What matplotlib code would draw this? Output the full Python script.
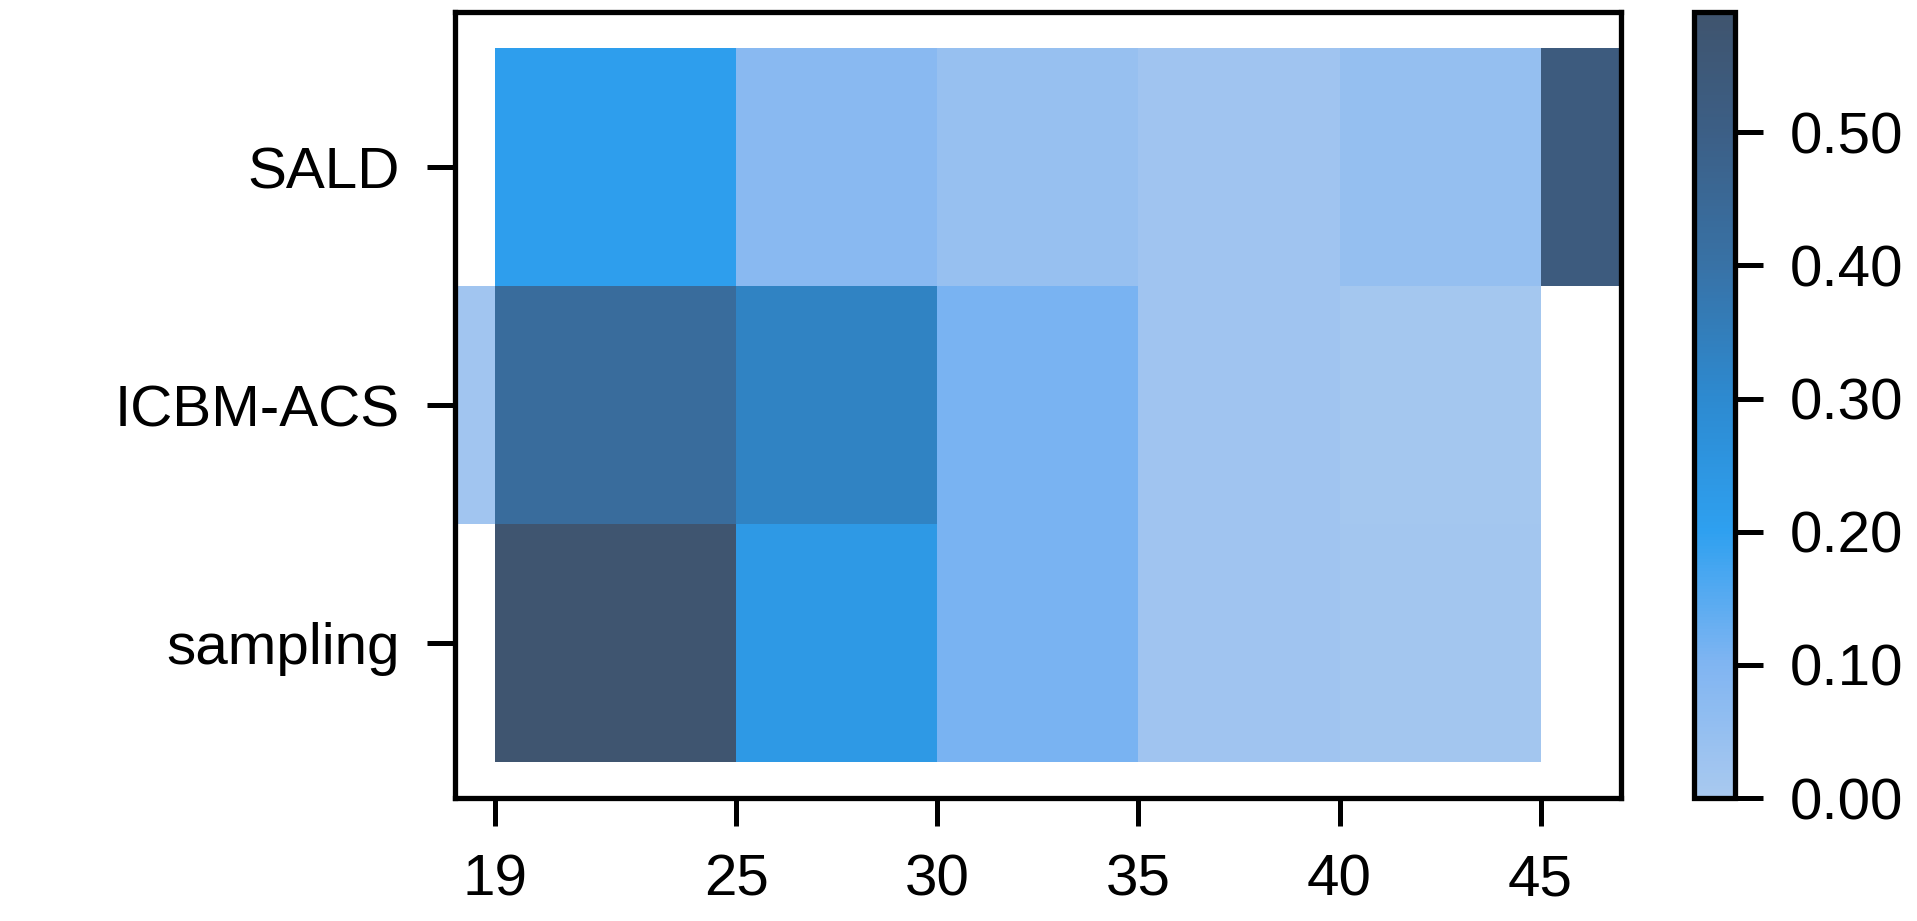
import numpy as np
import matplotlib
matplotlib.use("Agg")
import matplotlib.pyplot as plt
from matplotlib.colors import LinearSegmentedColormap

plt.rcParams['font.family'] = ['Liberation Sans', 'DejaVu Sans']

categories = ["SALD", "ICBM-ACS", "sampling"]
x_edges = [18, 19, 25, 30, 35, 40, 45, 47]
x_ticks = [19, 25, 30, 35, 40, 45]
sald = [np.nan, 0.21, 0.08, 0.045, 0.025, 0.05, 0.53]
icbm = [0.02, 0.43, 0.33, 0.11, 0.025, 0.012, np.nan]
sampling = [np.nan, 0.58, 0.235, 0.11, 0.025, 0.015, np.nan]
cbar_ticks = [0.0, 0.1, 0.2, 0.3, 0.4, 0.5]
vmax = 0.59

cmap = LinearSegmentedColormap.from_list("custom", [
    (0.0, "#a9c9ef"),
    (0.1 / vmax, "#80b5f2"),
    (0.2 / vmax, "#2ea0f0"),
    (0.3 / vmax, "#2d8ad0"),
    (0.4 / vmax, "#3872a6"),
    (0.5 / vmax, "#3c5f86"),
    (1.0, "#3f546e"),
])

data = np.ma.masked_invalid(np.array([sald, icbm, sampling]))

fig = plt.figure(figsize=(19.17, 9.21), dpi=100)
ax = fig.add_axes([0.2373, 0.1335, 0.6083, 0.853])
cax = fig.add_axes([0.8839, 0.1335, 0.0209, 0.853])

y_edges = np.arange(len(categories) + 1) - 0.5
mesh = ax.pcolormesh(x_edges, y_edges, data, cmap=cmap, vmin=0, vmax=vmax)
ax.set_xlim(18, 47)
ax.set_ylim(2.65, -0.65)
ax.set_yticks(range(len(categories)))
ax.set_yticklabels(categories)
ax.set_xticks(x_ticks)
for sp in ax.spines.values():
    sp.set_linewidth(3.8)
ax.tick_params(axis='both', length=20, width=3.6, labelsize=42, pad=20)

cb = fig.colorbar(mesh, cax=cax)
cb.set_ticks(cbar_ticks)
cb.set_ticklabels([f"{t:.2f}" for t in cbar_ticks])
cb.outline.set_linewidth(3.8)
cax.tick_params(length=20, width=3.6, labelsize=42, pad=20)

fig.savefig("out.png", dpi=100)
